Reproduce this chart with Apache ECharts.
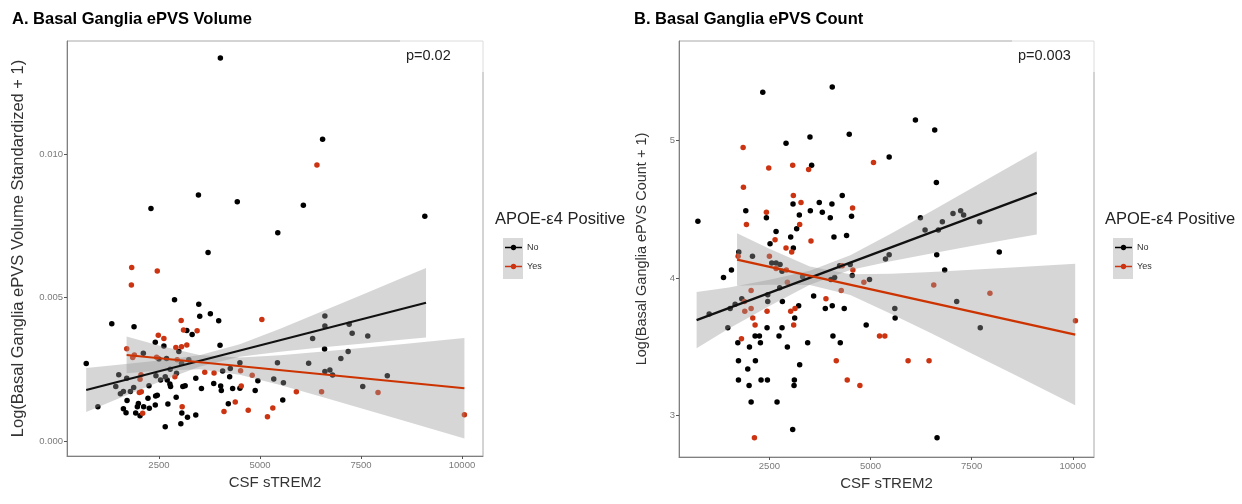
<!DOCTYPE html>
<html><head><meta charset="utf-8">
<script src="https://cdn.jsdelivr.net/npm/echarts@6/dist/echarts.min.js"></script>
<style>html,body{margin:0;padding:0;background:#fff}#c{width:1242px;height:504px}</style>
</head><body><div id="c"></div>
<script>
// ---------- data ----------
const xTicks = [2500, 5000, 7500, 10000];
const yTicksA = [0, 0.005, 0.010];
const yTicksB = [3, 4, 5];

// Panel A: CSF sTREM2 vs Log(BG ePVS volume standardized + 1)
const volNo = [[4020,0.01335],[6550,0.01052],[3478,0.00857],[2303,0.00810],[4439,0.00834],[6074,0.00822],[5441,0.00726],[9080,0.00783],[3716,0.00657],
[1333,0.00409],[1884,0.00398],[2886,0.00492],[3486,0.00477],[3510,0.00435],[3773,0.00444],[3979,0.00419],[3190,0.00385],[3322,0.00371],[2410,0.00344],[2623,0.00331],[2993,0.00312],[2114,0.00306],[2500,0.00286],[2689,0.00288],[4012,0.00334],[3239,0.00283],[4077,0.00244],[4266,0.00253],[4504,0.00273],[4948,0.00210],[5342,0.00216],[5433,0.00273],[5581,0.00203],[5564,0.00143],[4882,0.00176],[4504,0.00184],[4324,0.00183],[4044,0.00176],[4028,0.00192],[3856,0.00201],[3552,0.00183],[4250,0.00224],[4217,0.00130],[6205,0.00271],[6304,0.00357],[6607,0.00436],[6607,0.00401],[6599,0.00321],[6607,0.00242],[6731,0.00248],[6797,0.00230],[7002,0.00288],[7183,0.00312],[7208,0.00407],[7282,0.00376],[7668,0.00366],[7544,0.00190],[8152,0.00228],[701,0.00270],[989,0.00120],[1432,0.00190],[1506,0.00231],[1547,0.00165],[1621,0.00173],[1703,0.00219],[1711,0.00141],[1793,0.00173],[1875,0.00187],[1621,0.00113],[1686,0.00099],[1925,0.00098],[1991,0.00131],[1966,0.00120],[2032,0.00088],[2122,0.00120],[2229,0.00149],[2262,0.00114],[2254,0.00193],[2410,0.00126],[2418,0.00157],[2459,0.00160],[2426,0.00228],[2541,0.00213],[2656,0.00224],[2656,0.00050],[2722,0.00129],[2705,0.00213],[2771,0.00199],[2788,0.00190],[2927,0.00153],[2779,0.00250],[2935,0.00236],[3042,0.00060],[3067,0.00098],[3091,0.00190],[3149,0.00193],[3207,0.00083],[3412,0.00091],[3412,0.00219],[3059,0.00271]];
const volYes = [[6410,0.00962],[1826,0.00605],[2459,0.00593],[1818,0.00544],[3050,0.00420],[5047,0.00424],[2484,0.00369],[2623,0.00357],[3108,0.00387],[3445,0.00384],[1703,0.00322],[2919,0.00326],[3059,0.00329],[3190,0.00335],[1892,0.00300],[1851,0.00291],[2443,0.00292],[3634,0.00240],[3864,0.00237],[4521,0.00245],[4808,0.00229],[4537,0.00192],[4389,0.00136],[4110,0.00103],[4710,0.00107],[5186,0.00085],[5318,0.00115],[5901,0.00172],[6525,0.00172],[7922,0.00169],[10060,0.00092],[3075,0.00120],[2097,0.00097],[2032,0.00215],[2056,0.00231],[2064,0.00172],[2015,0.00169],[2895,0.00224],[2952,0.00283]];

// fitted lines and confidence bands
const volFitNo = [[700,0.00178],[9110,0.00482]];
const volBandNoX = [700,1500,2500,3500,4500,5500,6500,7500,8500,9110];
const volBandNoLo = [0.001013,0.00148,0.002057,0.002591,0.002935,0.003112,0.003257,0.003393,0.003528,0.003608];
const volBandNoHi = [0.002547,0.002658,0.002805,0.002993,0.003373,0.003918,0.004497,0.005083,0.005672,0.006032];
const volFitYes = [[1700,0.0030],[10060,0.00184]];
const volBandYesX = [1700,2500,3500,4500,5500,6500,7500,8500,10060];
const volBandYesLo = [0.002359,0.002449,0.002499,0.002314,0.001954,0.001556,0.001148,0.000736,0.00009];
const volBandYesHi = [0.003641,0.003329,0.003001,0.002908,0.002992,0.003112,0.003242,0.003376,0.00359];

// Panel B: CSF sTREM2 vs Log(BG ePVS count + 1)
const cntNo = [[732,4.414],[2336,5.352],[4054,5.39],[6110,5.149],[6587,5.077],[6628,4.696],[5461,4.88],[4474,5.046],[3503,5.027],[2911,4.98],[3544,4.82],[4301,4.60],[3084,4.54],[3733,4.55],[4046,4.54],[1916,4.49],[3512,4.49],[3808,4.48],[3240,4.46],[4531,4.45],[4005,4.44],[2426,4.44],[3174,4.36],[2665,4.34],[6233,4.44],[6348,4.35],[6677,4.35],[6776,4.41],[7039,4.47],[7228,4.49],[7302,4.46],[7697,4.41],[3026,4.30],[2516,4.25],[4096,4.30],[4408,4.31],[3092,4.22],
[1743,4.19],[2081,4.16],[2558,4.11],[2665,4.11],[2763,4.10],[2812,4.05],[1365,4.005],[1562,4.06],[1817,3.85],[1653,3.81],[1530,3.78],[1011,3.74],[1472,3.64],[2459,3.88],[2459,3.83],[2442,3.64],[2821,3.83],[2755,3.93],[3322,4.01],[3224,3.80],[3125,3.71],[2812,3.64],[2738,3.58],[3594,3.87],[3882,3.78],[4054,3.80],[4350,3.78],[4021,3.99],[4112,4.005],[4235,4.09],[4498,4.10],[4548,4.02],[4975,3.99],[5370,4.14],[5461,4.17],[4893,3.66],[4071,3.58],[4252,3.53],[3446,3.53],[3248,3.37],[2944,3.50],[1719,3.53],[2146,3.58],[2253,3.58],[2278,3.53],[2007,3.50],[1735,3.40],[2154,3.40],[1965,3.34],[1735,3.26],[1998,3.22],[2294,3.26],[2451,3.26],[3117,3.26],[3109,3.22],[2048,3.10],[2689,3.10],[3076,2.90],[6645,2.84],[5600,3.78],[5608,3.71],[6637,4.17],[6834,4.06],[7130,3.83],[7713,3.64],[8183,4.19]];
const cntYes = [[1850,4.95],[2484,4.80],[3076,4.82],[3470,4.79],[5074,4.84],[1858,4.66],[3092,4.60],[3281,4.55],[4556,4.51],[2426,4.48],[1932,4.39],[3248,4.39],[2640,4.28],[3528,4.27],[2911,4.22],[3051,4.19],[1727,4.16],[2500,4.16],[2665,4.07],[2919,4.06],[2048,3.91],[1883,3.83],[1891,3.76],[2048,3.78],[2089,3.71],[2146,3.66],[2442,3.76],[2944,3.97],[3026,3.76],[3133,3.78],[3100,3.66],[3898,3.85],[4276,3.91],[4301,4.09],[4564,4.06],[4836,3.97],[1809,3.56],[2130,2.84],[4153,3.40],[4424,3.26],[4737,3.22],[5222,3.58],[5354,3.58],[5929,3.40],[6447,3.40],[6563,3.95],[7952,3.89],[10066,3.69]];

const cntFitNo = [[700,3.695],[9110,4.620]];
const cntBandNoX = [700,1500,2500,3500,4500,5500,6500,7500,8500,9110];
const cntBandNoLo = [3.490,3.634,3.798,3.952,4.059,4.123,4.180,4.233,4.286,4.318];
const cntBandNoHi = [3.900,3.932,3.988,4.054,4.167,4.323,4.486,4.653,4.820,4.922];
const cntFitYes = [[1700,4.135],[10060,3.590]];
const cntBandYesX = [1700,2500,3500,4500,5500,6500,7500,8500,10060];
const cntBandYesLo = [3.944,3.953,3.951,3.877,3.742,3.599,3.453,3.307,3.076];
const cntBandYesHi = [4.326,4.213,4.085,4.029,4.032,4.045,4.061,4.077,4.104];

// ---------- chart ----------
const FONT = '"Liberation Sans", Arial, sans-serif';
const BLACK = '#000000', RED = '#cc3311';
const chart = echarts.init(document.getElementById('c'), null, {renderer: 'canvas'});

function xAxis(gi, min, max) {
  return {
    type: 'value', gridIndex: gi, min: min, max: max,
    splitLine: {show: false},
    axisLine: {show: true, onZero: false, lineStyle: {color: '#808080', width: 1}},
    axisTick: {show: true, length: 3, customValues: xTicks, lineStyle: {color: '#555'}},
    axisLabel: {customValues: xTicks, color: '#7a7a7a', fontSize: 9.5, margin: 4, fontFamily: FONT, formatter: v => String(v)},
    name: 'CSF sTREM2', nameLocation: 'middle', nameGap: 18,
    nameTextStyle: {fontSize: 15, color: '#333', fontFamily: FONT}
  };
}
function yAxis(gi, min, max, ticks, fmt, name, gap, fs) {
  return {
    type: 'value', gridIndex: gi, min: min, max: max,
    splitLine: {show: false},
    axisLine: {show: true, onZero: false, lineStyle: {color: '#808080', width: 1}},
    axisTick: {show: true, length: 3, customValues: ticks, lineStyle: {color: '#555'}},
    axisLabel: {customValues: ticks, color: '#7a7a7a', fontSize: 9.5, margin: 4, fontFamily: FONT, formatter: fmt},
    name: name, nameLocation: 'middle', nameRotate: 90, nameGap: gap,
    nameTextStyle: {fontSize: fs, color: '#333', fontFamily: FONT}
  };
}
function scatter(name, data, color, i) {
  return {type: 'scatter', name: name, xAxisIndex: i, yAxisIndex: i, data: data, z: 2,
    symbol: 'circle', symbolSize: 5.5, itemStyle: {color: color, opacity: 1}, silent: true};
}
function fitLine(name, data, color, i) {
  return {type: 'line', name: name, xAxisIndex: i, yAxisIndex: i, data: data, z: 4,
    symbol: 'none', lineStyle: {color: color, width: 2.2}, itemStyle: {color: color}, silent: true, animation: false};
}
function band(name, xs, lo, hi, i) {
  return {
    type: 'custom', name: name, xAxisIndex: i, yAxisIndex: i, z: 3, silent: true,
    data: xs.map((x, k) => [x, lo[k], hi[k]]),
    encode: {x: 0, y: [1, 2]},
    renderItem: function (params, api) {
      if (params.dataIndex !== 0) return {type: 'group', children: []};
      const pts = [];
      for (let k = 0; k < xs.length; k++) pts.push(api.coord([xs[k], hi[k]]));
      for (let k = xs.length - 1; k >= 0; k--) pts.push(api.coord([xs[k], lo[k]]));
      return {type: 'polygon', shape: {points: pts}, style: {fill: 'rgba(153,153,153,0.4)'}};
    }
  };
}
const ICON = 'path://M0,2.3h18v1.4h-18z M6.2,3a2.8,2.8 0 1,1 5.6,0a2.8,2.8 0 1,1 -5.6,0z';
function legend(left) {
  return {data: ['No', 'Yes'], orient: 'vertical', left: left, top: 243, padding: 0,
    itemWidth: 17, itemHeight: 6, itemGap: 10, icon: ICON, selectedMode: false,
    textStyle: {fontSize: 9, color: '#333', fontFamily: FONT}};
}

const option = {
  backgroundColor: '#ffffff',
  animation: false,
  textStyle: {fontFamily: FONT},
  title: [
    {text: 'A. Basal Ganglia ePVS Volume', left: 7, top: 6,
      textStyle: {fontSize: 16.5, fontWeight: 'bold', color: '#000', fontFamily: FONT}},
    {text: 'B. Basal Ganglia ePVS Count', left: 629, top: 6,
      textStyle: {fontSize: 16.5, fontWeight: 'bold', color: '#000', fontFamily: FONT}}
  ],
  grid: [
    {left: 67, top: 41, width: 416, height: 415, show: true, borderColor: '#a8a8a8', borderWidth: 1, backgroundColor: 'transparent'},
    {left: 679, top: 41, width: 415, height: 416, show: true, borderColor: '#a8a8a8', borderWidth: 1, backgroundColor: 'transparent'}
  ],
  xAxis: [xAxis(0, 225, 10520), xAxis(1, 265, 10525)],
  yAxis: [
    yAxis(0, -0.00052, 0.01394, yTicksA, v => v.toFixed(3), 'Log(Basal Ganglia ePVS Volume Standardized + 1)', 40, 16.5),
    yAxis(1, 2.70, 5.724, yTicksB, v => String(v), 'Log(Basal Ganglia ePVS Count + 1)', 30, 14.5)
  ],
  legend: [legend(505), legend(1115)],
  series: [
    scatter('No', volNo, BLACK, 0),
    scatter('Yes', volYes, RED, 0),
    band('bandNoA', volBandNoX, volBandNoLo, volBandNoHi, 0),
    band('bandYesA', volBandYesX, volBandYesLo, volBandYesHi, 0),
    fitLine('No', volFitNo, '#111111', 0),
    fitLine('Yes', volFitYes, '#cc3300', 0),
    scatter('No', cntNo, BLACK, 1),
    scatter('Yes', cntYes, RED, 1),
    band('bandNoB', cntBandNoX, cntBandNoLo, cntBandNoHi, 1),
    band('bandYesB', cntBandYesX, cntBandYesLo, cntBandYesHi, 1),
    fitLine('No', cntFitNo, '#111111', 1),
    fitLine('Yes', cntFitYes, '#cc3300', 1)
  ],
  graphic: [
    {type: 'rect', left: 400, top: 39, shape: {width: 85, height: 33}, style: {fill: 'rgba(255,255,255,0.6)'}, z: 10, silent: true},
    {type: 'text', left: 406, top: 48, style: {text: 'p=0.02', fontSize: 14.5, fill: '#222', font: '14.5px ' + FONT}, z: 11},
    {type: 'rect', left: 1012, top: 39, shape: {width: 84, height: 33}, style: {fill: 'rgba(255,255,255,0.6)'}, z: 10, silent: true},
    {type: 'text', left: 1018, top: 48, style: {text: 'p=0.003', fontSize: 14.5, fill: '#222', font: '14.5px ' + FONT}, z: 11},
    {type: 'text', left: 495, top: 211, style: {text: 'APOE-ε4 Positive', fontSize: 16.5, fill: '#222', font: '16.5px ' + FONT}, z: 11},
    {type: 'rect', left: 503, top: 238, shape: {width: 20, height: 41}, style: {fill: '#d9d9d9'}, z: 0, silent: true},
    {type: 'text', left: 1105, top: 211, style: {text: 'APOE-ε4 Positive', fontSize: 16.5, fill: '#222', font: '16.5px ' + FONT}, z: 11},
    {type: 'rect', left: 1113, top: 238, shape: {width: 20, height: 41}, style: {fill: '#d9d9d9'}, z: 0, silent: true}
  ]
};
chart.setOption(option);
</script>
</body></html>
